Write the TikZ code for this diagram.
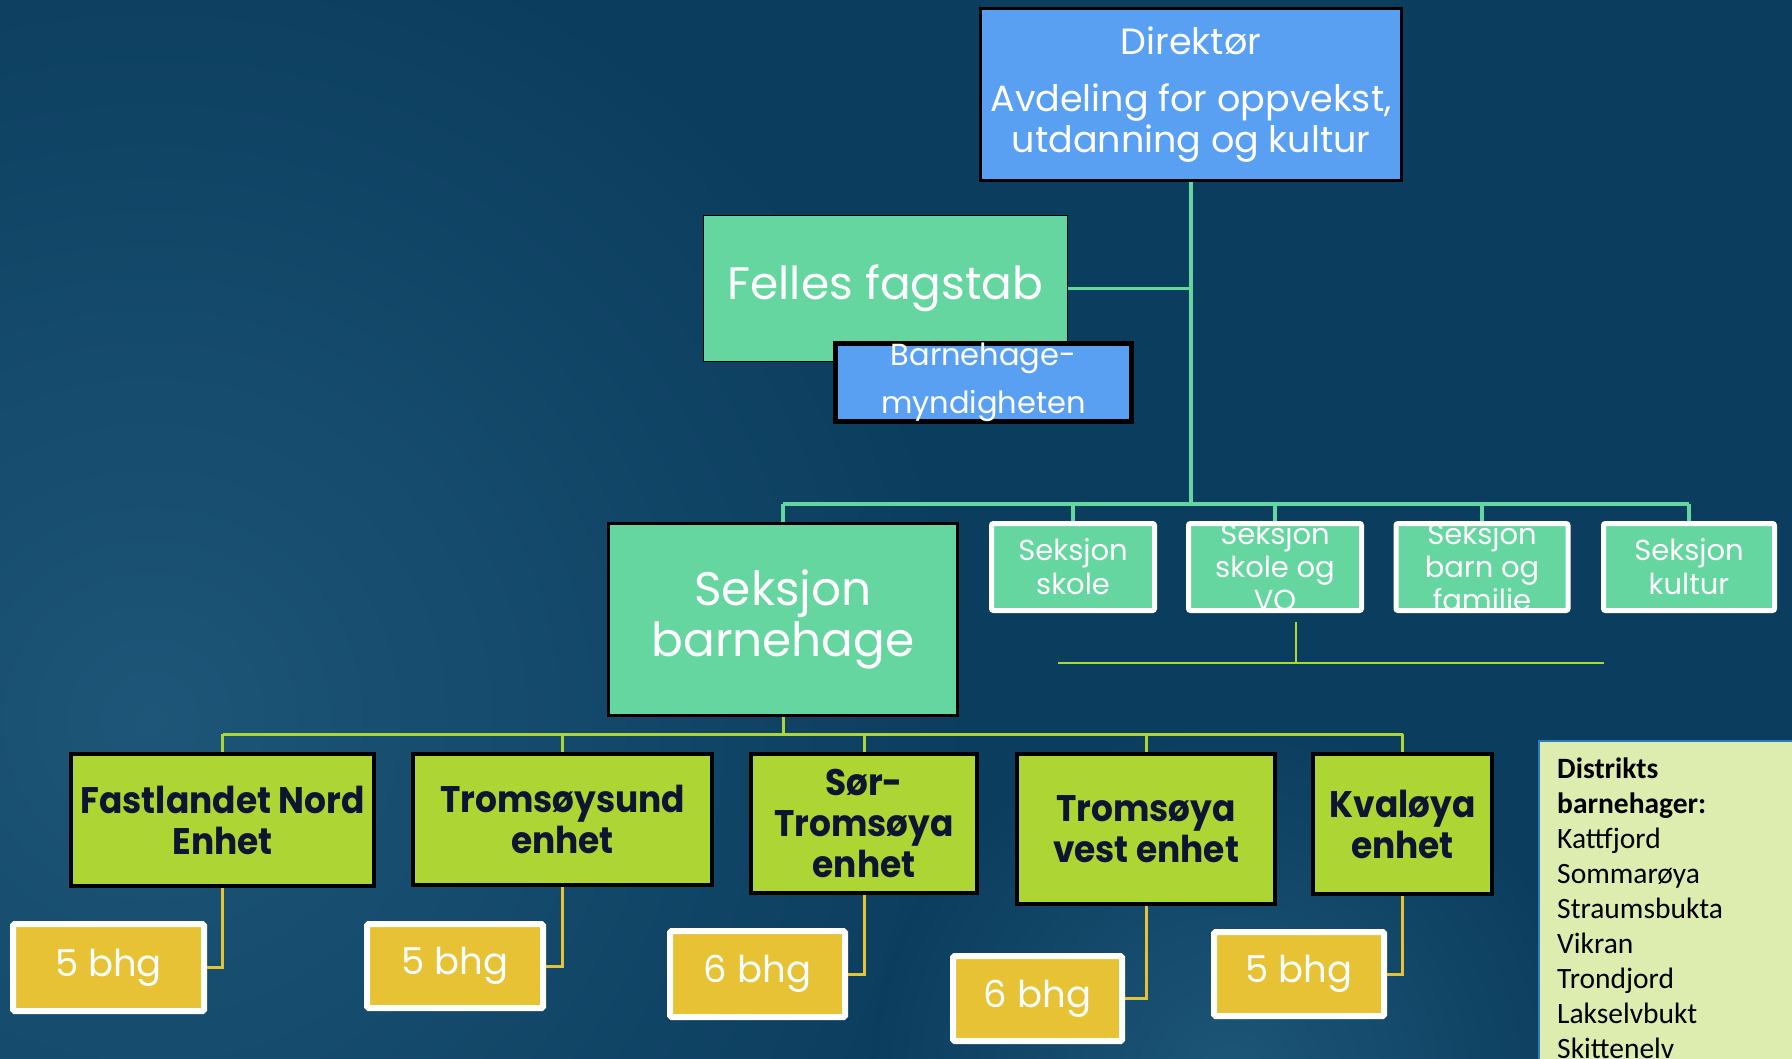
\documentclass[tikz,border=0pt]{standalone}
\usepackage{fontspec}
\setmainfont{Poppins}
\newfontfamily\enhetfont[FakeStretch=0.93]{Poppins}
\newfontfamily\listfont{Carlito}

\definecolor{bgdark}{HTML}{0B3D5E}
\definecolor{bglight}{HTML}{1D5678}
\definecolor{dirblue}{HTML}{5AA0F2}
\definecolor{seksjongreen}{HTML}{66D6A0}
\definecolor{enhetlime}{HTML}{ADD533}
\definecolor{bhggold}{HTML}{E6C234}
\definecolor{listgreen}{HTML}{DDECAF}
\definecolor{listblue}{HTML}{2E7BC0}
\definecolor{enhettext}{HTML}{0E1530}

\newcommand{\fsz}[2]{\fontsize{#1}{#2}\selectfont}

\tikzset{
  box/.style={rectangle, inner sep=0pt, align=center, text=white},
  bluebox/.style={box, fill=dirblue, draw=black, line width=3pt},
  greenbox/.style={box, fill=seksjongreen, draw=black, line width=3pt},
  secbox/.style={box, fill=seksjongreen, draw=white, line width=5pt,
    rounded corners=2pt, minimum height=87, font=\fsz{29}{34}},
  enhetbox/.style={box, fill=enhetlime, draw=black, line width=4pt,
    text=enhettext, font=\enhetfont\bfseries\fsz{37}{41}},
  bhgbox/.style={box, fill=bhggold, draw=white, line width=6pt,
    rounded corners=1.5pt, font=\fsz{37}{44}},
  tealline/.style={draw=seksjongreen, line width=3.5pt},
  limeline/.style={draw=enhetlime, line width=3pt},
  goldline/.style={draw=bhggold, line width=3pt}
}

\begin{document}
\begin{tikzpicture}[x=1pt,y=-1pt]
\useasboundingbox (0,0) rectangle (1792,1059);
\clip (0,0) rectangle (1792,1059);
% background
\fill[bgdark] (0,0) rectangle (1792,1059);
\shade[inner color=bglight, outer color=bgdark] (150,720) circle (820);
\shade[inner color=bglight, outer color=bgdark] (1230,1080) circle (360);

% top level
\node[bluebox, minimum width=421, minimum height=172, font=\fsz{36.5}{41}] (dir) at (1191,94.5)
  {Direktør\\[16pt]Avdeling for oppvekst,\\utdanning og kultur};
\node[greenbox, line width=1pt, minimum width=364, minimum height=146, font=\fsz{45.5}{54}]
  (felles) at (885.5,288.5) {Felles fagstab};
\node[bluebox, line width=5pt, minimum width=296, minimum height=78, font=\fsz{30.5}{48}]
  (myndighet) at (983.5,382.5) {Barnehage-\\myndigheten};

% seksjoner
\node[greenbox, minimum width=349, minimum height=192, font=\fsz{47}{51}]
  (barnehage) at (783,619.5) {Seksjon\\barnehage};
\node[secbox, minimum width=163] (skole) at (1073,567) {Seksjon\\skole};
\node[secbox, minimum width=173, path picture={
    \node[box, font=\fsz{29}{33}] at (path picture bounding box.center) {Seksjon\\skole og\\VO};}]
  (vo) at (1275,567) {};
\node[secbox, minimum width=172, path picture={
    \node[box, font=\fsz{29}{33}] at (path picture bounding box.center) {Seksjon\\barn og\\familie};}]
  (familie) at (1482,567) {};
\node[secbox, minimum width=171] (kultur) at (1689,567) {Seksjon\\kultur};

\coordinate (hub) at (1191,504);
\draw[tealline, line width=4pt] (dir.south) -- (hub);
\draw[tealline] (felles.east) -- (felles.east -| dir.south);
\draw[tealline] (barnehage.north |- hub) -- (kultur.north |- hub);
\foreach \s in {barnehage, skole, vo, familie, kultur}
  \draw[tealline] (\s.north) -- (\s.north |- hub);

% loose line under skole og VO
\coordinate (stubtop) at (1296,622);
\coordinate (stubfoot) at (1296,663);
\coordinate (railwest) at (1058,663);
\coordinate (raileast) at (1604,663);
\draw[limeline, line width=1.5pt] (stubtop) -- (stubfoot);
\draw[limeline, line width=2pt] (railwest) -- (raileast);

% enheter
\node[enhetbox, minimum width=303, minimum height=132] (fastland) at (222.5,820)
  {Fastlandet Nord\\Enhet};
\node[enhetbox, minimum width=299, minimum height=131] (sund) at (562.5,819.5)
  {Tromsøysund\\enhet};
\node[enhetbox, minimum width=226, minimum height=139] (sor) at (864,823.5)
  {Sør-\\Tromsøya\\enhet};
\node[enhetbox, minimum width=258, minimum height=150] (vest) at (1146,829)
  {Tromsøya\\vest enhet};
\node[enhetbox, minimum width=179, minimum height=140] (kvaloya) at (1402.5,824)
  {Kvaløya\\enhet};

\coordinate (enhetbar) at (783,734);
\draw[limeline] (barnehage.south) -- (enhetbar);
\draw[limeline] (fastland.north |- enhetbar) -- (kvaloya.north |- enhetbar);
\foreach \e in {fastland, sund, sor, vest, kvaloya}
  \draw[limeline] (\e.north) -- (\e.north |- enhetbar);

% barnehager per enhet
\node[bhgbox, minimum width=191, minimum height=87] (bhgA) at (108.5,967.5) {5 bhg};
\node[bhgbox, minimum width=176, minimum height=84] (bhgB) at (455,966) {5 bhg};
\node[bhgbox, minimum width=175, minimum height=86] (bhgC) at (757.5,974) {6 bhg};
\node[bhgbox, minimum width=169, minimum height=85] (bhgD) at (1037.5,998.5) {6 bhg};
\node[bhgbox, minimum width=170, minimum height=84] (bhgE) at (1299,974) {5 bhg};

\draw[goldline] (fastland.south) |- (bhgA.east);
\draw[goldline] (sund.south) |- (bhgB.east);
\draw[goldline] (sor.south) |- (bhgC.east);
\draw[goldline] (vest.south) |- (bhgD.east);
\draw[goldline] (kvaloya.south) |- (bhgE.east);

% distriktsbarnehager
\node[rectangle, fill=listgreen, draw=listblue, line width=1.5pt, anchor=north west,
  minimum width=280, minimum height=340] (distrikt) at (1538,740) {};
\node[inner sep=0pt, anchor=north west, align=left, text=black,
  font=\listfont\fsz{29.5}{35}] (distriktliste) at (1557,758)
  {\textbf{Distrikts}\\\textbf{barnehager:}\\Kattfjord\\Sommarøya\\Straumsbukta\\Vikran\\Trondjord\\Lakselvbukt\\Skittenelv};
\end{tikzpicture}
\end{document}
